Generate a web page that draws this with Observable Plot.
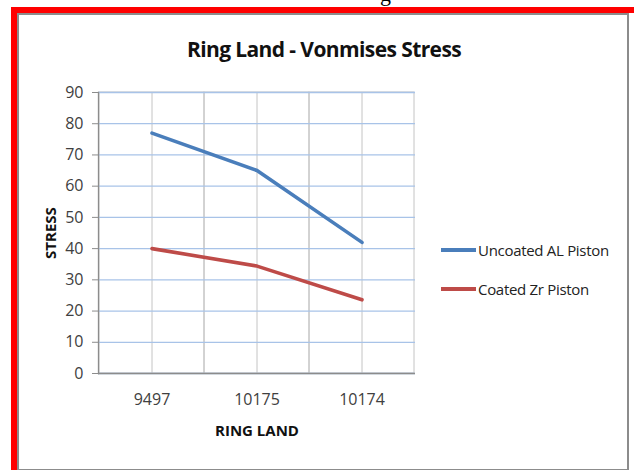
<!DOCTYPE html>
<html>
<head>
<meta charset="utf-8">
<script src="https://cdn.jsdelivr.net/npm/d3@7"></script>
<script src="https://cdn.jsdelivr.net/npm/@observablehq/plot@0.6"></script>
<style>
  html, body { margin: 0; padding: 0; background: #fff; width: 634px; height: 470px; overflow: hidden; }
  body { position: relative; font-family: "Open Sans", sans-serif; }
  #frame-red { position: absolute; left: 11px; top: 7px; width: 640px; height: 480px; border: 6px solid #ff0000; box-sizing: border-box; pointer-events: none; }
  #frame-gray { position: absolute; left: 17px; top: 13px; width: 612px; height: 457px; border: 2px solid #8c8c8c; border-bottom-width: 1px; box-sizing: border-box; pointer-events: none; }
  #chart { position: absolute; left: 0; top: 0; }
  #title { position: absolute; left: 0; width: 648px; top: 35px; text-align: center; font-weight: bold; font-size: 21px; letter-spacing: -0.6px; color: #111; }
  #legend { position: absolute; left: 441px; top: 239px; font-size: 15px; letter-spacing: -0.3px; color: #222; }
  .li { display: flex; align-items: center; height: 22px; margin-bottom: 16.5px; }
  .sw { width: 35px; height: 4px; margin-right: 2px; }
  #clip { position: absolute; left: 380px; top: -19px; font-family: "Liberation Serif", serif; font-size: 22px; color: #000; }
</style>
</head>
<body>
<div id="clip">g</div>
<div id="chart"></div>
<div id="title">Ring Land - Vonmises Stress</div>
<div id="legend"></div>
<div id="frame-red"></div>
<div id="frame-gray"></div>
<script>
const categories = ["9497", "10175", "10174"];
const seriesNames = ["Uncoated AL Piston", "Coated Zr Piston"];
const uncoatedAL = [77, 65, 42];
const coatedZr = [40, 34.4, 23.6];
const seriesColors = ["#4a7ebb", "#be4b48"];
const yTicks = [0, 10, 20, 30, 40, 50, 60, 70, 80, 90];

const rows = [];
[uncoatedAL, coatedZr].forEach((vals, s) => {
  vals.forEach((v, i) => rows.push({series: seriesNames[s], cat: categories[i], value: v}));
});

const font = '"Open Sans", sans-serif';

const chart = Plot.plot({
  width: 634,
  height: 470,
  marginLeft: 98,
  marginRight: 219,
  marginTop: 92,
  marginBottom: 97,
  style: { fontFamily: font, fontSize: "16px", color: "#404040", background: "transparent" },
  x: { type: "band", domain: categories, padding: 0 },
  y: { domain: [0, 90] },
  color: { domain: seriesNames, range: seriesColors },
  marks: [
    Plot.cell(categories, { x: d => d, fill: "none", stroke: "#c4c4c4", strokeWidth: 1 }),
    Plot.gridX({ stroke: "#c4c4c4", strokeOpacity: 1, strokeWidth: 1 }),
    Plot.gridY({ ticks: yTicks, stroke: "#a8c3e8", strokeOpacity: 1, strokeWidth: 1.3 }),
    Plot.ruleY([0], { stroke: "#8c8c8c", strokeWidth: 1.3 }),
    Plot.frame({ anchor: "left", stroke: "#8c8c8c", strokeWidth: 1.3 }),
    Plot.axisY({ ticks: yTicks, tickSize: 6, tickPadding: 9, stroke: "#8c8c8c", label: "STRESS",
                 labelArrow: "none", labelAnchor: "center", labelOffset: 53, fontSize: 16 }),
    Plot.axisX({ tickSize: 0, tickPadding: 20, label: "RING LAND", labelArrow: "none",
                 labelAnchor: "center", labelOffset: 62, fontSize: 16 }),
    Plot.line(rows, { x: "cat", y: "value", z: "series", stroke: "series", strokeWidth: 3.6, strokeLinecap: "round" })
  ]
});
document.getElementById("chart").appendChild(chart);

// bold axis labels, no arrows
chart.querySelectorAll("g[aria-label='y-axis label'] text, g[aria-label='x-axis label'] text").forEach(t => {
  t.textContent = t.textContent.replace(/[\u2191\u2192\u2190\u2193]/g, "").trim();
  t.setAttribute("font-weight", "bold");
  t.setAttribute("font-size", "15");
  t.setAttribute("fill", "#111");
});

const legend = document.getElementById("legend");
seriesNames.forEach((name, i) => {
  const li = document.createElement("div");
  li.className = "li";
  const sw = document.createElement("span");
  sw.className = "sw";
  sw.style.background = seriesColors[i];
  const tx = document.createElement("span");
  tx.textContent = name;
  li.appendChild(sw); li.appendChild(tx);
  legend.appendChild(li);
});
</script>
</body>
</html>
